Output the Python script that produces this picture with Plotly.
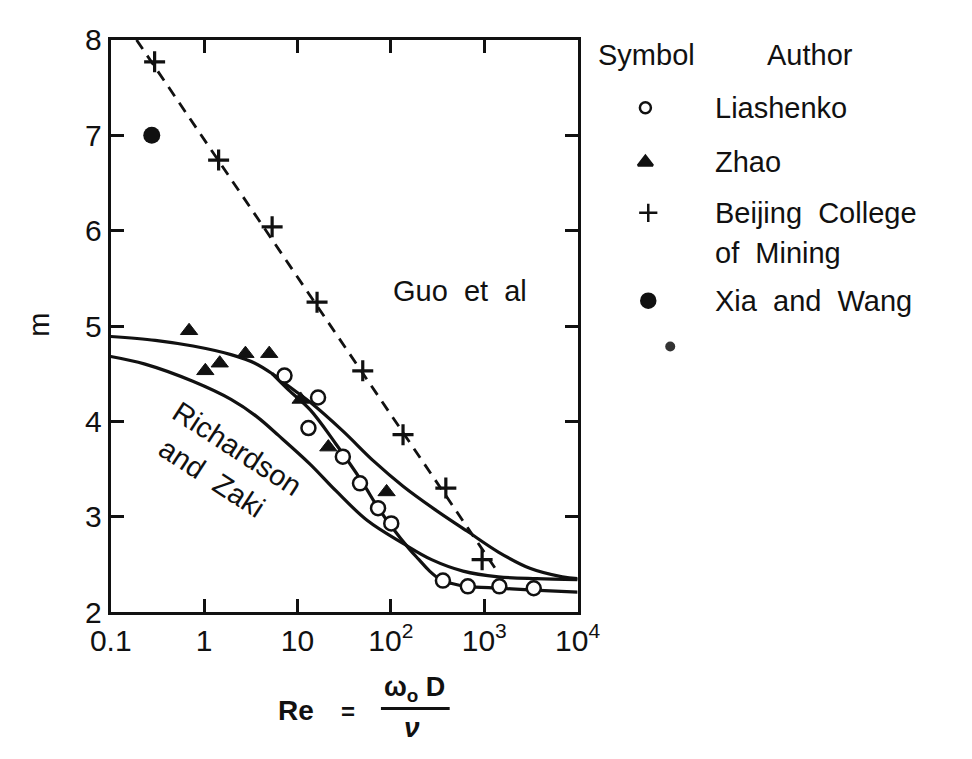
import plotly.graph_objects as go

W, H = 972, 759

# ---------------- data ----------------
# Liashenko (open circles)
lia_re = [7.26, 16.6, 13.1, 30.6, 46.7, 72.9, 101, 361, 667, 1452, 3390]
lia_m = [4.48, 4.25, 3.93, 3.63, 3.35, 3.09, 2.93, 2.33, 2.27, 2.27, 2.25]

# Zhao (filled triangles)
zhao_re = [0.69, 1.03, 1.47, 2.77, 4.98, 10.8, 21.4, 90]
zhao_m = [4.95, 4.53, 4.61, 4.71, 4.71, 4.23, 3.73, 3.26]

# Beijing College of Mining (+)
bcm_re = [0.295, 1.43, 5.35, 16.2, 50, 135, 388, 949]
bcm_m = [7.77, 6.74, 6.04, 5.25, 4.53, 3.86, 3.30, 2.55]

# Xia and Wang (filled circle)
xia_re = [0.275]
xia_m = [7.0]

# Dashed fit through Beijing data
dash_re = [0.189, 1416]
dash_m = [8.0, 2.41]

# Guo et al (upper solid curve)
guo_re = [0.1, 0.3, 0.76, 1.94, 3.5, 5.35, 8.0, 13.7, 30.5, 66, 135, 292, 652, 1416, 3080, 6850, 10000]
guo_m = [4.89, 4.85, 4.79, 4.70, 4.61, 4.50, 4.37, 4.20, 3.90, 3.58, 3.32, 3.08, 2.85, 2.63, 2.46, 2.37, 2.35]

# Fit through Liashenko data (branches off the upper curve)
lfit_re = [5.35, 8.0, 13.7, 25.9, 48.9, 71.3, 101, 158, 200, 260, 340, 450, 652, 1490, 3390, 10000]
lfit_m = [4.50, 4.33, 4.12, 3.76, 3.37, 3.11, 2.90, 2.66, 2.55, 2.43, 2.34, 2.30, 2.27, 2.25, 2.23, 2.21]

# Richardson and Zaki (lower solid curve)
rz_re = [0.1, 0.233, 0.757, 1.94, 3.66, 6.3, 13.7, 25.9, 56, 135, 273, 593, 1416, 3630, 10000]
rz_m = [4.68, 4.60, 4.42, 4.23, 4.05, 3.85, 3.55, 3.27, 2.96, 2.72, 2.55, 2.43, 2.37, 2.35, 2.34]

x_tickvals = [0.1, 1, 10, 100, 1000, 10000]
x_ticktext = ["0.1", "1", "10", "10<sup>2</sup>", "10<sup>3</sup>", "10<sup>4</sup>"]
y_tickvals = [2, 3, 4, 5, 6, 7, 8]

legend_names = ["Liashenko", "Zhao", "Beijing College", "Xia and Wang"]

FONT = "Liberation Sans, Arial, sans-serif"
BLACK = "#111111"

fig = go.Figure()

# curves
fig.add_trace(go.Scatter(x=dash_re, y=dash_m, mode="lines",
                         line=dict(color=BLACK, width=2.8, dash="11px,8px"), showlegend=False))
fig.add_trace(go.Scatter(x=guo_re, y=guo_m, mode="lines", line_shape="spline",
                         line=dict(color=BLACK, width=3.2), showlegend=False))
fig.add_trace(go.Scatter(x=lfit_re, y=lfit_m, mode="lines", line_shape="spline",
                         line=dict(color=BLACK, width=3.2), showlegend=False))
fig.add_trace(go.Scatter(x=rz_re, y=rz_m, mode="lines", line_shape="spline",
                         line=dict(color=BLACK, width=3.2), showlegend=False))

# markers
fig.add_trace(go.Scatter(x=lia_re, y=lia_m, mode="markers", showlegend=False,
                         marker=dict(symbol="circle", size=14, color="white",
                                     line=dict(color=BLACK, width=2.5))))
fig.add_trace(go.Scatter(x=zhao_re, y=zhao_m, mode="markers", showlegend=False,
                         marker=dict(symbol="triangle-up", size=15, color=BLACK,
                                     line=dict(color=BLACK, width=1))))
fig.add_trace(go.Scatter(x=bcm_re, y=bcm_m, mode="markers", showlegend=False,
                         marker=dict(symbol="cross-thin", size=15,
                                     line=dict(color=BLACK, width=3.2))))
fig.add_trace(go.Scatter(x=xia_re, y=xia_m, mode="markers", showlegend=False,
                         marker=dict(symbol="circle", size=17, color=BLACK)))

# legend symbols on a pixel-frame overlay axis
leg_sym_x = [654, 654, 657, 657]
leg_sym_y = [95, 152, 205, 297]
leg_syms = ["circle", "triangle-up", "cross-thin", "circle"]
leg_sizes = [11, 13, 13, 14]
leg_fill = ["white", BLACK, BLACK, BLACK]
for sx, sy, s, sz, fc in zip(leg_sym_x, leg_sym_y, leg_syms, leg_sizes, leg_fill):
    fig.add_trace(go.Scatter(x=[sx], y=[sy], xaxis="x2", yaxis="y2", mode="markers",
                             showlegend=False,
                             marker=dict(symbol=s, size=sz, color=fc,
                                         line=dict(color=BLACK, width=2.5))))
# stray dot in the scan
fig.add_trace(go.Scatter(x=[680], y=[345], xaxis="x2", yaxis="y2", mode="markers",
                         showlegend=False, marker=dict(symbol="circle", size=10, color="#333")))

axis_common = dict(showline=True, linewidth=3, linecolor=BLACK, mirror="ticks",
                   ticks="inside", ticklen=13, tickwidth=2.5, tickcolor=BLACK,
                   showgrid=False, zeroline=False,
                   tickfont=dict(family=FONT, size=30, color=BLACK))

fig.update_layout(
    width=W, height=H,
    margin=dict(l=0, r=0, t=0, b=0),
    paper_bgcolor="white", plot_bgcolor="rgba(0,0,0,0)",
    xaxis=dict(type="log", range=[-1, 4], domain=[94 / W, 583 / W],
               tickvals=x_tickvals, ticktext=x_ticktext, anchor="y", **axis_common),
    yaxis=dict(range=[2, 8], domain=[1 - 623 / H, 1 - 24 / H],
               tickvals=y_tickvals, anchor="x", **axis_common),
    xaxis2=dict(domain=[0, 1], range=[0, W], visible=False, anchor="y2", fixedrange=True),
    yaxis2=dict(domain=[0, 1], range=[H, 0], visible=False, anchor="x2", fixedrange=True),
)


def px(x):
    return x / W


def py(y):
    return 1 - y / H


def ann(text, x, y, size=28, angle=0, xanchor="center", **kw):
    fig.add_annotation(text=text, x=px(x), y=py(y), xref="paper", yref="paper",
                       showarrow=False, xanchor=xanchor, yanchor="middle",
                       textangle=angle, font=dict(family=FONT, size=size, color=BLACK), **kw)


NB = "\u00a0"
# in-plot labels
ann(f"Guo{NB}{NB}et{NB}{NB}al", 460, 287, size=29)
ann("Richardson", 227, 452, size=29, angle=33)
ann(f"and{NB}{NB}Zaki", 200, 483, size=29, angle=33)

# y-axis title
ann("m", 18, 322, size=29, angle=-90)

# x-axis title: Re = w0 D / v
ann("<b>Re</b>", 288, 726, size=28)
ann("<b>=</b>", 343, 727, size=24)
ann("<b>ω<sub>o</sub> D</b>", 412, 703, size=27)
ann("<b><i>ν</i></b>", 410, 744, size=28)
fig.add_shape(type="line", xref="paper", yref="paper",
              x0=px(377), x1=px(449), y0=py(724), y1=py(724),
              line=dict(color=BLACK, width=3))

# legend text
ann("Symbol", 602, 40, size=29, xanchor="left")
ann("Author", 779, 40, size=29, xanchor="left")
leg_text_y = [95, 152, 205, 297]
for name, ty in zip(legend_names, leg_text_y):
    ann(name.replace(" ", NB + NB) if name != "Liashenko" else name, 725, ty, size=29, xanchor="left")
ann(f"of{NB}{NB}Mining", 725, 247, size=29, xanchor="left")

fig.write_html("out.html")
